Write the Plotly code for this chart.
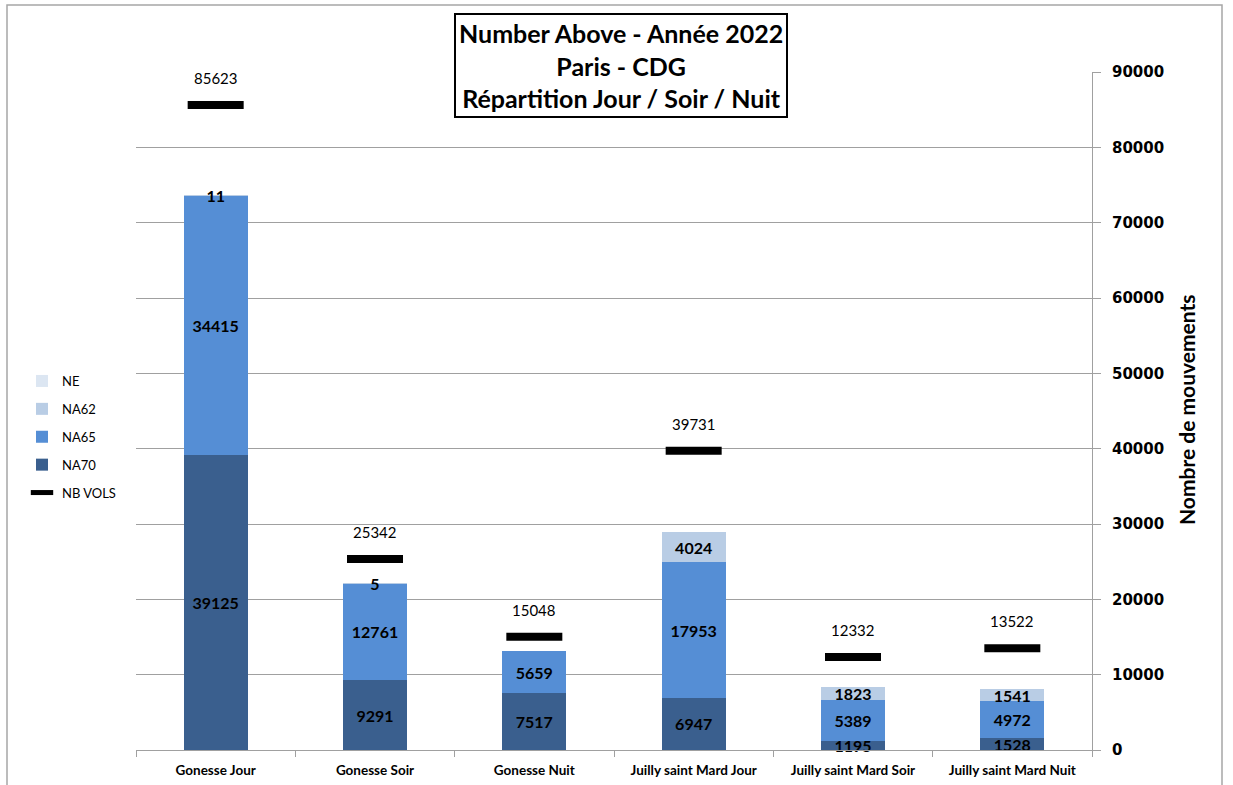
import plotly.graph_objects as go

categories = ["Gonesse Jour", "Gonesse Soir", "Gonesse Nuit",
              "Juilly saint Mard Jour", "Juilly saint Mard Soir", "Juilly saint Mard Nuit"]
na70 = [39125, 9291, 7517, 6947, 1195, 1528]
na65 = [34415, 12761, 5659, 17953, 5389, 4972]
na62 = [11, 5, 0, 4024, 1823, 1541]
ne = [0, 0, 0, 0, 0, 0]
nb_vols = [85623, 25342, 15048, 39731, 12332, 13522]
y_ticks = [0, 10000, 20000, 30000, 40000, 50000, 60000, 70000, 80000, 90000]

FONT = "Lato"
L, R, T, B = 136, 141, 72, 35
W, H = 1233, 785
PW, PH = W - L - R, H - T - B


def px_x(p):
    return (p - L) / PW


def px_y(p):
    return (H - B - p) / PH


def labels(vals):
    return [str(v) if v else "" for v in vals]


fig = go.Figure()
series = [("NA70", na70, "#3A5F8E", 4), ("NA65", na65, "#558ED5", 3),
          ("NA62", na62, "#B9CDE5", 2), ("NE", ne, "#DCE6F2", 1)]
for name, vals, col, rank in series:
    fig.add_trace(go.Bar(
        x=categories, y=vals, name=name, marker=dict(color=col, line=dict(width=0)),
        width=0.4, text=labels(vals), textposition="inside", constraintext="none",
        insidetextanchor="middle", textangle=0,
        textfont=dict(family=FONT, size=16, color="black", weight="bold"),
        legendrank=rank, legendgroup=name, cliponaxis=False,
    ))

fig.add_trace(go.Scatter(
    x=categories, y=nb_vols, name="NB VOLS", mode="markers",
    marker=dict(symbol="line-ew", size=40, line=dict(width=8, color="black"), color="black"),
    legendrank=5, legendgroup="NB VOLS", cliponaxis=False,
))

annotations = [
    dict(x=c, y=v, xref="x", yref="y", text=str(v), showarrow=False,
         yshift=27, xanchor="center", yanchor="middle",
         font=dict(family=FONT, size=15, color="black"))
    for c, v in zip(categories, nb_vols)
]
annotations += [
    dict(text="Number Above - Année 2022<br>Paris - CDG<br>Répartition Jour / Soir / Nuit",
         xref="paper", yref="paper", x=px_x(621), y=px_y(66),
         xanchor="center", yanchor="middle", showarrow=False,
         font=dict(family=FONT, size=25, color="black", weight="bold"),
         bordercolor="black", borderwidth=2, borderpad=3, bgcolor="white"),
    dict(text="Nombre de mouvements", xref="paper", yref="paper",
         x=px_x(1186), y=px_y(410), xanchor="center", yanchor="middle",
         textangle=-90, showarrow=False,
         font=dict(family=FONT, size=21, color="black", weight="bold")),
]

fig.update_layout(
    width=W, height=H, barmode="stack",
    margin=dict(l=L, r=R, t=T, b=B, autoexpand=False),
    paper_bgcolor="white", plot_bgcolor="white",
    font=dict(family=FONT, color="black"),
    showlegend=True,
    legend=dict(x=px_x(22), y=px_y(366), xanchor="left", yanchor="top",
                traceorder="grouped", tracegroupgap=8,
                font=dict(family=FONT, size=13, color="black"),
                bgcolor="rgba(0,0,0,0)", itemwidth=30),
    xaxis=dict(type="category", range=[-0.5, 5.5], showgrid=False, automargin=False,
               showline=True, linecolor="#A0A0A0", linewidth=1,
               ticks="outside", tickson="boundaries", ticklen=6, tickcolor="#A0A0A0",
               ticklabelstandoff=8,
               tickfont=dict(family=FONT, size=13.5, color="black", weight="bold")),
    yaxis=dict(side="right", range=[0, 90000], tickvals=y_ticks, automargin=False,
               ticktext=[str(v) for v in y_ticks],
               showgrid=True, gridcolor="#A0A0A0", gridwidth=1,
               showline=True, linecolor="#A0A0A0", linewidth=1,
               ticks="outside", ticklen=8, tickcolor="#A0A0A0",
               ticklabelstandoff=8, zeroline=False,
               tickfont=dict(family="DejaVu Sans", size=15, color="black", weight="bold")),
    shapes=[dict(type="rect", xref="paper", yref="paper",
                 x0=px_x(7), x1=px_x(1222), y0=px_y(800), y1=px_y(5),
                 line=dict(color="#A6A6A6", width=1.5), fillcolor="rgba(0,0,0,0)",
                 layer="below")],
    annotations=annotations,
)

fig.write_html("out.html", config={"displayModeBar": False},
               post_script="document.body.style.margin='0';document.body.style.padding='0';")
